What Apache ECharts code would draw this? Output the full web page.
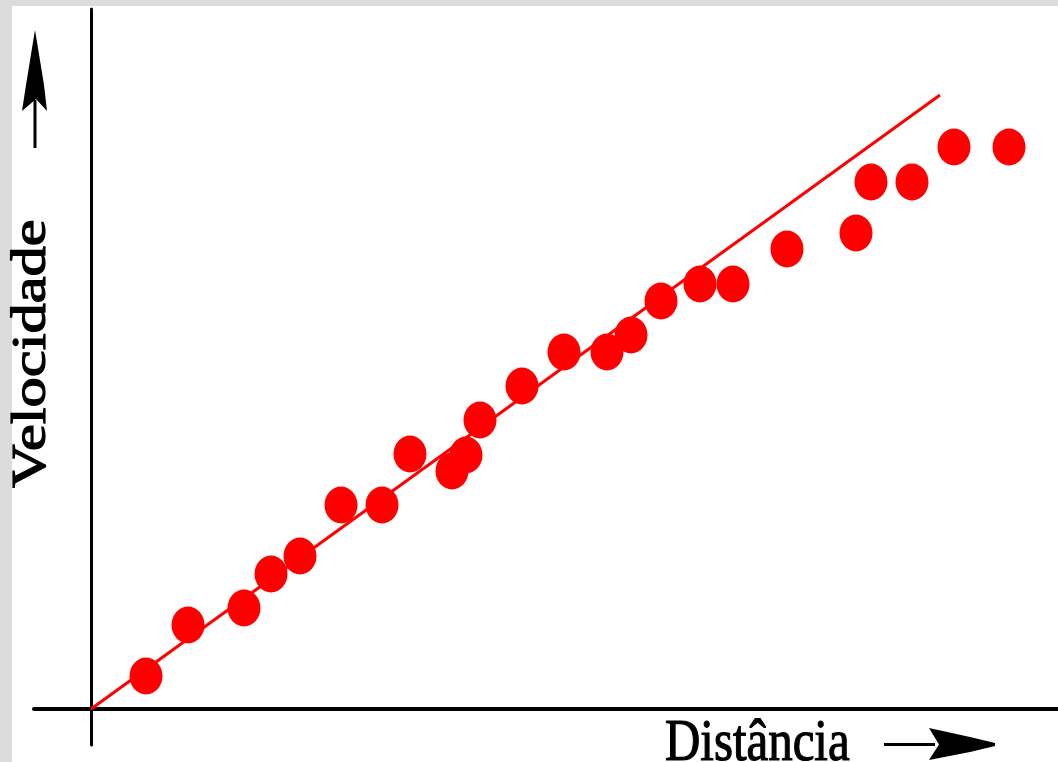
<!DOCTYPE html>
<html>
<head>
<meta charset="utf-8">
<script src="https://cdn.jsdelivr.net/npm/echarts@6/dist/echarts.min.js"></script>
<style>
  html, body { margin: 0; padding: 0; background: #ffffff; }
  #chart { width: 1058px; height: 762px; }
</style>
</head>
<body>
<div id="chart"></div>
<script>
// Data (arbitrary units: distance along x, velocity along y)
const distance = [55, 97, 153, 180, 209, 250, 291, 319, 361, 375, 389, 431, 473, 516, 540, 570, 609, 642, 696, 765, 780, 821, 863, 918];
const velocity = [33, 84, 101, 135, 153, 204, 204, 255, 238, 254, 289, 323, 357, 357, 374, 408, 425, 425, 460, 476, 527, 527, 562, 562];
const trendX = [0, 849];
const trendY = [0, 614];
const xTitle = 'Distância';
const yTitle = 'Velocidade';

const points = distance.map((d, i) => [d, velocity[i]]);
const trend = trendX.map((d, i) => [d, trendY[i]]);

const chart = echarts.init(document.getElementById('chart'), null, { renderer: 'canvas' });
const font = '"Liberation Serif", "Times New Roman", serif';

chart.setOption({
  animation: false,
  backgroundColor: '#ffffff',
  grid: { left: 34, right: 0, top: 9, bottom: 17, containLabel: false },
  xAxis: {
    type: 'value', min: -57, max: 967,
    axisLine: { show: true, onZero: true, lineStyle: { color: '#000000', width: 4 } },
    axisTick: { show: false }, axisLabel: { show: false }, splitLine: { show: false }
  },
  yAxis: {
    type: 'value', min: -36, max: 700,
    axisLine: { show: true, onZero: true, lineStyle: { color: '#000000', width: 3 } },
    axisTick: { show: false }, axisLabel: { show: false }, splitLine: { show: false }
  },
  series: [
    {
      type: 'line', data: trend, symbol: 'none', z: 2,
      lineStyle: { color: '#ff0000', width: 3, opacity: 1 }
    },
    {
      type: 'scatter', data: points, symbol: 'circle', symbolSize: [33, 37], z: 3,
      itemStyle: { color: '#ff0000', opacity: 1 }
    }
  ],
  graphic: [
    { type: 'rect', shape: { x: 0, y: 0, width: 1058, height: 6 }, style: { fill: '#dcdcdc' }, z: 10 },
    { type: 'rect', shape: { x: 0, y: 0, width: 12, height: 762 }, style: { fill: '#dcdcdc' }, z: 10 },
    {
      type: 'text', x: 32, y: 488, rotation: Math.PI / 2, scaleX: 1.26, scaleY: 1, z: 10,
      style: { text: yTitle, font: '48px ' + font, fill: '#000000', stroke: '#000000', lineWidth: 1.2, align: 'left', verticalAlign: 'middle' }
    },
    {
      type: 'text', x: 665, y: 744, scaleX: 0.815, scaleY: 1, z: 10,
      style: { text: xTitle, font: '60px ' + font, fill: '#000000', stroke: '#000000', lineWidth: 1.2, align: 'left', verticalAlign: 'middle' }
    },
    // y arrow
    { type: 'line', shape: { x1: 35, y1: 148, x2: 35, y2: 100 }, style: { stroke: '#000000', lineWidth: 3 }, z: 10 },
    { type: 'polygon', shape: { points: [[35, 30], [37, 42], [44, 85], [47, 111], [36, 99], [22, 111], [26, 85], [33, 42]] }, style: { fill: '#000000' }, z: 10 },
    // x arrow
    { type: 'line', shape: { x1: 884, y1: 744.5, x2: 935, y2: 744.5 }, style: { stroke: '#000000', lineWidth: 3 }, z: 10 },
    { type: 'polygon', shape: { points: [[929, 728], [970, 737], [995, 743], [995, 746], [970, 752], [929, 760], [939, 744.5]] }, style: { fill: '#000000' }, z: 10 }
  ]
});
</script>
</body>
</html>
